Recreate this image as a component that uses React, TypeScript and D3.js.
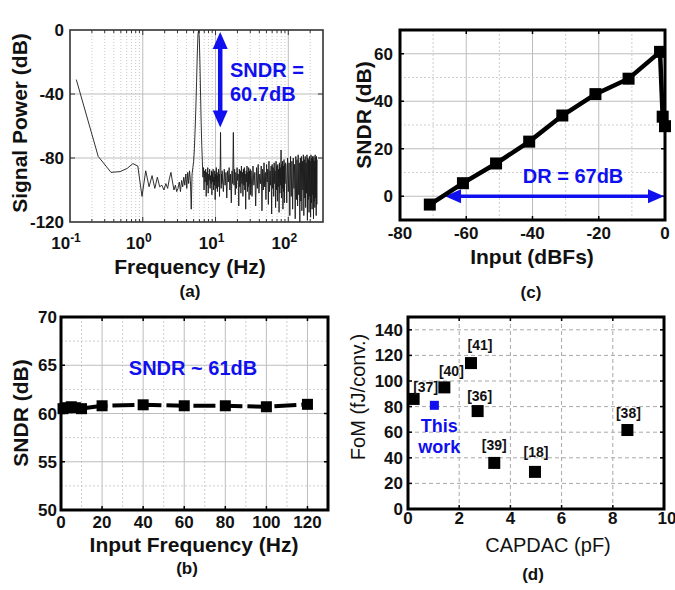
import { useEffect, useRef } from "react";
import * as d3 from "d3";

const FONT = "'Liberation Sans', Arial, sans-serif";
const BLUE = "#1010ee";

// (a) output spectrum, FFT bins of 500/4096 Hz
const binHz = 500 / 4096;
const specA = [
  -31, -79, -89, -88.5, -86.5, -83.5, -85, -104, -88, -98, -91, -99, -92, -98, -97, -100, -96, -99, -93, -89,
  -95, -100, -97, -101, -99, -95, -101, -94, -98, -92, -97, -90, -99, -89, -96, -88, -94, -112, -90, -86,
  -82, -74, -62, -48, -32, -15, -3, 0, -5, -20, -40, -58, -72, -82,
];
const specB = [
  -92, -86, -100, -88, -95, -87, -104, -89, -97, -86, -102, -90, -94, -87, -99, -91, -96, -88, -103, -89,
  -95, -87, -100, -92, -97, -88, -106, -90, -94, -86, -99, -89, -101, -91, -95, -87, -98, -90, -104, -88,
  -85, -64, -86, -99, -90, -96, -88,
];
const specC = [
  -92, -101, -87, -97, -89, -105, -88, -95, -86, -100, -90, -108, -88, -96, -64, -97, -87, -103, -89, -99,
  -86, -94, -90, -110, -87, -98, -88, -102, -85, -96, -89, -104, -87, -97, -86, -100, -90, -112, -88, -95,
  -85, -101, -89, -98, -86, -106, -88, -96, -87, -103,
];
const specD = [
  -88, -104, -85, -97, -89, -110, -86, -99, -84, -102, -90, -96, -85, -113, -87, -100, -83, -98, -89, -106,
  -84, -95, -87, -109, -82, -101, -88, -97, -85, -115, -84, -99, -86, -104, -83, -96, -88, -111, -82, -100,
  -85, -107, -84, -98, -87, -114, -83, -102, -86, -97, -75, -105, -84, -99, -82, -112, -85, -101, -81, -108,
  -84, -96, -83,
];
const specE = [
  -84, -108, -80, -101, -83, -116, -79, -104, -82, -112, -80, -99, -84, -118, -79, -106, -81, -110, -78, -103,
  -83, -120, -80, -107, -79, -113, -82, -100, -78, -116, -81, -105, -79, -111, -83, -102, -78, -119, -80, -106,
  -81, -114, -79, -104, -82, -117, -78, -108, -80, -112, -79, -103, -81, -118, -79, -107, -82, -111, -78, -105,
  -80, -116, -79, -109, -81,
];
const specSegments = [
  { firstBin: 1, step: 1, db: specA },
  { firstBin: 55, step: 1, db: specB },
  { firstBin: 102, step: 3, db: specC },
  { firstBin: 252, step: 8, db: specD },
  { firstBin: 760, step: 20, db: specE },
];

// (c) SNDR vs input amplitude
const inputDbfs = [-71, -61, -51, -41, -31, -21, -11, -1.5, -0.7, 0];
const sndrVsInput = [-3.5, 5.5, 13.8, 23, 34, 43, 49.5, 60.8, 33.5, 29.5];

// (b) SNDR vs input frequency
const inputHz = [1, 3, 5, 7, 10, 20, 40, 60, 80, 100, 120];
const sndrVsHz = [60.5, 60.6, 60.7, 60.6, 60.5, 60.8, 60.9, 60.8, 60.8, 60.7, 60.95];

// (d) FoM vs CAPDAC
const refNames = ["[37]", "[40]", "[41]", "[36]", "[39]", "[18]", "[38]"];
const refCapPf = [0.22, 1.42, 2.46, 2.72, 3.37, 4.96, 8.57];
const refFom = [86, 95, 114, 76.5, 36, 29, 61.7];
const thisWorkCap = 1.03;
const thisWorkFom = 81;
const refLabelOffsets = [
  [12, -12], [7, -16], [9, -18], [2, -15], [0, -18], [1, -20], [1, -17],
];

type G = d3.Selection<SVGGElement, unknown, null, undefined>;

function label(g: G, x: number, y: number, s: string, size: number, opts: any = {}) {
  return g
    .append("text")
    .attr("x", x)
    .attr("y", y)
    .attr("font-family", FONT)
    .attr("font-size", size)
    .attr("font-weight", opts.weight ?? "bold")
    .attr("fill", opts.fill ?? "#111")
    .attr("text-anchor", opts.anchor ?? "middle")
    .text(s);
}

function yTitle(g: G, x: number, y: number, s: string, size: number, weight = "bold") {
  g.append("text")
    .attr("transform", `translate(${x},${y}) rotate(-90)`)
    .attr("font-family", FONT)
    .attr("font-size", size)
    .attr("font-weight", weight)
    .attr("fill", "#111")
    .attr("text-anchor", "middle")
    .attr("dominant-baseline", "central")
    .text(s);
}

function vLine(g: G, x: number, y0: number, y1: number, stroke: string, dash?: string, w = 1) {
  g.append("line").attr("x1", x).attr("x2", x).attr("y1", y0).attr("y2", y1)
    .attr("stroke", stroke).attr("stroke-width", w).attr("stroke-dasharray", dash ?? null);
}
function hLine(g: G, y: number, x0: number, x1: number, stroke: string, dash?: string, w = 1) {
  g.append("line").attr("x1", x0).attr("x2", x1).attr("y1", y).attr("y2", y)
    .attr("stroke", stroke).attr("stroke-width", w).attr("stroke-dasharray", dash ?? null);
}

function frame(g: G, x0: number, x1: number, y0: number, y1: number, w: number, color = "#000") {
  g.append("rect").attr("x", x0).attr("y", y0).attr("width", x1 - x0).attr("height", y1 - y0)
    .attr("fill", "none").attr("stroke", color).attr("stroke-width", w);
}

function ticksInward(g: G, xs: number[], ys: number[], x0: number, x1: number, y0: number, y1: number, len: number) {
  xs.forEach((x) => {
    vLine(g, x, y1, y1 - len, "#000", undefined, 1.5);
    vLine(g, x, y0, y0 + len, "#000", undefined, 1.5);
  });
  ys.forEach((y) => {
    hLine(g, y, x0, x0 + len, "#000", undefined, 1.5);
    hLine(g, y, x1, x1 - len, "#000", undefined, 1.5);
  });
}

function squares(g: G, pts: [number, number][], size: number, fill: string) {
  g.selectAll(null)
    .data(pts)
    .enter()
    .append("rect")
    .attr("x", (d) => d[0] - size / 2)
    .attr("y", (d) => d[1] - size / 2)
    .attr("width", size)
    .attr("height", size)
    .attr("fill", fill);
}

function drawSpectrum(g: G) {
  const L = 70, R = 323, T = 30, B = 222;
  const x = d3.scaleLog().domain([0.1, 300]).range([L, R]);
  const y = d3.scaleLinear().domain([-120, 0]).range([B, T]);
  const all = x.ticks().filter((t) => t > 0.1 && t < 300);
  const decades = [1, 10, 100];
  all.filter((t) => !decades.some((d) => Math.abs(t - d) < 1e-9)).forEach((t) =>
    vLine(g, x(t), T, B, "#c9c9c9", "1,2"));
  decades.forEach((t) => vLine(g, x(t), T, B, "#bdbdbd"));
  [-40, -80].forEach((v) => hLine(g, y(v), L, R, "#bdbdbd"));

  const pts: [number, number][] = [];
  specSegments.forEach((s) =>
    s.db.forEach((v, i) => pts.push([(s.firstBin + i * s.step) * binHz, v])));
  g.append("path")
    .attr("d", d3.line<[number, number]>().x((d) => x(d[0])).y((d) => y(d[1]))(pts))
    .attr("fill", "none")
    .attr("stroke", "#1a1a1a")
    .attr("stroke-width", 0.9);

  // small ticks on frame
  all.forEach((t) => {
    const major = decades.includes(t);
    vLine(g, x(t), B, B - (major ? 5 : 3), "#333");
    vLine(g, x(t), T, T + (major ? 5 : 3), "#333");
  });
  [-40, -80].forEach((v) => {
    hLine(g, y(v), L, L + 5, "#333");
    hLine(g, y(v), R, R - 5, "#333");
  });
  frame(g, L, R, T, B, 1.6, "#333");

  [0, -40, -80, -120].forEach((v) => label(g, 64, y(v) + 6, String(v), 17, { anchor: "end" }));
  [0.1, 1, 10, 100].forEach((t) => {
    const tx = g.append("text")
      .attr("x", x(t) - 4)
      .attr("y", 249)
      .attr("font-family", FONT)
      .attr("font-size", 17)
      .attr("font-weight", "bold")
      .attr("fill", "#111")
      .attr("text-anchor", "middle");
    tx.append("tspan").text("10");
    tx.append("tspan").attr("dy", -7).attr("font-size", 12).text(String(Math.round(Math.log10(t))));
  });
  label(g, 190, 274, "Frequency (Hz)", 21);
  yTitle(g, 19, 123, "Signal Power (dB)", 21);
  label(g, 190, 297, "(a)", 17);

  // SNDR arrow
  const ax = x(11.6);
  const top = y(0) + 2, bot = y(-61);
  g.append("line").attr("x1", ax).attr("x2", ax).attr("y1", top + 12).attr("y2", bot - 12)
    .attr("stroke", BLUE).attr("stroke-width", 4.5);
  g.append("path").attr("d", `M${ax},${top} L${ax - 7.5},${top + 17} L${ax + 7.5},${top + 17} Z`).attr("fill", BLUE);
  g.append("path").attr("d", `M${ax},${bot} L${ax - 7.5},${bot - 17} L${ax + 7.5},${bot - 17} Z`).attr("fill", BLUE);
  label(g, 230, 77, "SNDR =", 20, { anchor: "start", fill: BLUE });
  label(g, 230, 101, "60.7dB", 20, { anchor: "start", fill: BLUE });
}

function drawSndrInput(g: G) {
  const L = 400, R = 665, T = 30, B = 220;
  const x = d3.scaleLinear().domain([-80, 0]).range([L, R]);
  const y = d3.scaleLinear().domain([-10, 70]).range([B, T]);
  [-70, -50, -30, -10].forEach((v) => vLine(g, x(v), T, B, "#cfcfcf", "2,2"));
  [-60, -40, -20].forEach((v) => vLine(g, x(v), T, B, "#bdbdbd"));
  [10, 30, 50].forEach((v) => hLine(g, y(v), L, R, "#cfcfcf", "2,2"));
  [0, 20, 40, 60].forEach((v) => hLine(g, y(v), L, R, "#bdbdbd"));
  ticksInward(g, [-60, -40, -20].map(x), [0, 20, 40, 60].map(y), L, R, T, B, 4);

  // DR arrow
  const ay = y(0);
  const a0 = x(-67) + 2, a1 = x(0) - 1;
  g.append("line").attr("x1", a0 + 12).attr("x2", a1 - 12).attr("y1", ay).attr("y2", ay)
    .attr("stroke", BLUE).attr("stroke-width", 3.5);
  g.append("path").attr("d", `M${a0},${ay} L${a0 + 16},${ay - 7} L${a0 + 16},${ay + 7} Z`).attr("fill", BLUE);
  g.append("path").attr("d", `M${a1},${ay} L${a1 - 16},${ay - 7} L${a1 - 16},${ay + 7} Z`).attr("fill", BLUE);
  label(g, 573, 183, "DR = 67dB", 20, { fill: BLUE });

  const pts = inputDbfs.map((v, i) => [x(v), y(sndrVsInput[i])] as [number, number]);
  g.append("path").attr("d", d3.line()(pts)).attr("fill", "none").attr("stroke", "#000").attr("stroke-width", 4.5);
  squares(g, pts, 12, "#000");
  frame(g, L, R, T, B, 3);

  [0, 20, 40, 60].forEach((v) => label(g, 393, y(v) + 6, String(v), 17, { anchor: "end" }));
  [-80, -60, -40, -20, 0].forEach((v) => label(g, x(v), 239, String(v), 17));
  label(g, 532, 264, "Input (dBFs)", 21);
  yTitle(g, 363, 115, "SNDR (dB)", 21);
  label(g, 531, 298, "(c)", 17);
}

function drawSndrFreq(g: G) {
  const L = 61, R = 328, T = 317, B = 510;
  const x = d3.scaleLinear().domain([0, 130]).range([L, R]);
  const y = d3.scaleLinear().domain([50, 70]).range([B, T]);
  [10, 30, 50, 70, 90, 110].forEach((v) => vLine(g, x(v), T, B, "#cfcfcf", "2,2"));
  [20, 40, 60, 80, 100, 120].forEach((v) => vLine(g, x(v), T, B, "#bdbdbd"));
  [52.5, 57.5, 62.5, 67.5].forEach((v) => hLine(g, y(v), L, R, "#cfcfcf", "2,2"));
  [55, 60, 65].forEach((v) => hLine(g, y(v), L, R, "#bdbdbd"));
  ticksInward(g, [20, 40, 60, 80, 100, 120].map(x), [55, 60, 65].map(y), L, R, T, B, 4);

  label(g, 193, 375, "SNDR ~ 61dB", 20, { fill: BLUE });

  const pts = inputHz.map((v, i) => [x(v), y(sndrVsHz[i])] as [number, number]);
  g.append("path").attr("d", d3.line()(pts)).attr("fill", "none").attr("stroke", "#000")
    .attr("stroke-width", 4).attr("stroke-dasharray", "22,5").attr("stroke-dashoffset", 4);
  squares(g, pts, 11, "#000");
  frame(g, L, R, T, B, 3);

  [50, 55, 60, 65, 70].forEach((v) => label(g, 57, y(v) + 6, String(v), 17, { anchor: "end" }));
  [0, 20, 40, 60, 80, 100, 120].forEach((v) => label(g, x(v), 528, String(v), 17));
  label(g, 194, 552, "Input Frequency (Hz)", 21);
  yTitle(g, 20, 413, "SNDR (dB)", 21);
  label(g, 187, 574, "(b)", 17);
}

function drawFom(g: G) {
  const L = 408, R = 664, T = 317, B = 509;
  const x = d3.scaleLinear().domain([0, 10]).range([L, R]);
  const y = d3.scaleLinear().domain([0, 150]).range([B, T]);
  [2, 4, 6, 8].forEach((v) => vLine(g, x(v), T, B, "#a8a8a8", "4,3"));
  d3.range(20, 150, 20).forEach((v) => hLine(g, y(v), L, R, "#a8a8a8", "4,3"));
  ticksInward(g, [2, 4, 6, 8].map(x), d3.range(20, 150, 20).map(y), L, R, T, B, 4);

  const pts = refCapPf.map((v, i) => [x(v), y(refFom[i])] as [number, number]);
  squares(g, pts, 12, "#000");
  squares(g, [[x(thisWorkCap), y(thisWorkFom)]], 9, BLUE);
  pts.forEach((p, i) =>
    label(g, p[0] + refLabelOffsets[i][0], p[1] + refLabelOffsets[i][1] + 5, refNames[i], 14));
  const tw = [x(thisWorkCap) + 5, y(thisWorkFom)];
  label(g, tw[0], tw[1] + 27, "This", 18, { fill: BLUE });
  label(g, tw[0], tw[1] + 48, "work", 18, { fill: BLUE });
  frame(g, L, R, T, B, 3);

  d3.range(0, 150, 20).forEach((v) => label(g, 403, y(v) + 6, String(v), 17, { anchor: "end" }));
  d3.range(0, 11, 2).forEach((v) => label(g, x(v) + (v === 10 ? 3 : 0), 524, String(v), 17));
  label(g, 548, 552, "CAPDAC (pF)", 20, { weight: "normal" });
  yTitle(g, 358, 397, "FoM (fJ/conv.)", 20, "normal");
  label(g, 533, 580, "(d)", 17);
}

export default function App() {
  const svgRef = useRef<SVGSVGElement>(null);

  useEffect(() => {
    const svg = d3.select(svgRef.current);
    svg.selectAll("*").remove();
    svg.append("rect").attr("width", 675).attr("height", 590).attr("fill", "#fff");
    drawSpectrum(svg.append("g") as any);
    drawSndrInput(svg.append("g") as any);
    drawSndrFreq(svg.append("g") as any);
    drawFom(svg.append("g") as any);
  }, []);

  return (
    <svg
      ref={svgRef}
      width={675}
      height={590}
      style={{ position: "absolute", left: 0, top: 0 }}
    />
  );
}
